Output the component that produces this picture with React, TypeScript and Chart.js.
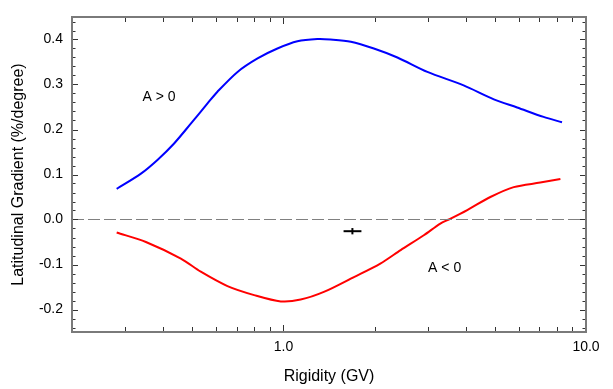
import React, { useEffect, useRef } from 'react';
import { Chart, registerables } from 'chart.js';

Chart.register(...registerables);

// Blue curve (A > 0)
const rigidityPos = [0.281, 0.338, 0.384, 0.435, 0.494, 0.561, 0.605, 0.705, 0.821, 0.955, 1.112, 1.294, 1.43, 1.67, 1.99, 2.38, 2.99, 3.94, 4.96, 5.92, 7.24, 8.33];
const gradientPos = [0.068, 0.102, 0.133, 0.169, 0.213, 0.258, 0.284, 0.328, 0.358, 0.380, 0.396, 0.401, 0.400, 0.395, 0.380, 0.360, 0.328, 0.298, 0.267, 0.249, 0.228, 0.216];

// Red curve (A < 0)
const rigidityNeg = [0.281, 0.351, 0.458, 0.533, 0.653, 0.80, 0.98, 1.14, 1.36, 1.71, 2.09, 2.44, 2.91, 3.30, 3.52, 4.05, 4.83, 5.77, 7.06, 8.23];
const gradientNeg = [-0.029, -0.050, -0.087, -0.116, -0.148, -0.168, -0.182, -0.178, -0.161, -0.128, -0.098, -0.068, -0.035, -0.009, 0.000, 0.021, 0.050, 0.072, 0.082, 0.090];

// Single measurement with error bars
const pointX = [1.69];
const pointY = [-0.026];
const pointXErr = [[1.58, 1.81]];
const pointYErr = [[-0.033, -0.019]];

// Axes
const xMin = 0.2;
const xMax = 10;
const yMin = -0.25;
const yMax = 0.45;
const xTickValues = [1, 10];
const xMinorTicks = [0.3, 0.4, 0.5, 0.6, 0.7, 0.8, 0.9, 2, 3, 4, 5, 6, 7, 8, 9];
const yTickValues = [-0.2, -0.1, 0.0, 0.1, 0.2, 0.3, 0.4];
const yMinorStep = 0.02;

// Text annotations
const labelTexts = ['A > 0', 'A < 0'];
const labelX = [0.388, 3.41];
const labelY = [0.271, -0.1075];

const FONT = '"Liberation Sans", Arial, Helvetica, sans-serif';

const framePlugin = {
  id: 'frameTicks',
  afterDatasetsDraw(chart: any) {
    const { ctx, chartArea, scales } = chart;
    const { left, right, top, bottom } = chartArea;
    const x = scales.x;
    const y = scales.y;
    ctx.save();
    ctx.strokeStyle = '#333333';
    ctx.lineWidth = 1;
    ctx.beginPath();
    for (const v of yTickValues) {
      const py = Math.round(y.getPixelForValue(v)) + 0.5;
      ctx.moveTo(left, py); ctx.lineTo(left + 6, py);
      ctx.moveTo(right, py); ctx.lineTo(right - 6, py);
    }
    const nMin = Math.ceil(yMin / yMinorStep - 1e-9);
    const nMax = Math.floor(yMax / yMinorStep + 1e-9);
    for (let i = nMin; i <= nMax; i++) {
      if (i % 5 === 0) continue;
      const v = i * yMinorStep;
      const py = Math.round(y.getPixelForValue(v)) + 0.5;
      ctx.moveTo(left, py); ctx.lineTo(left + 3.5, py);
      ctx.moveTo(right, py); ctx.lineTo(right - 3.5, py);
    }
    for (const v of xTickValues) {
      const px = Math.round(x.getPixelForValue(v)) + 0.5;
      ctx.moveTo(px, bottom); ctx.lineTo(px, bottom - 7);
      ctx.moveTo(px, top); ctx.lineTo(px, top + 7);
    }
    for (const v of xMinorTicks) {
      const px = Math.round(x.getPixelForValue(v)) + 0.5;
      ctx.moveTo(px, bottom); ctx.lineTo(px, bottom - 5);
      ctx.moveTo(px, top); ctx.lineTo(px, top + 5);
    }
    ctx.stroke();

    ctx.strokeStyle = '#7a7a7a';
    ctx.lineWidth = 2;
    ctx.strokeRect(left, top, right - left, bottom - top);

    ctx.fillStyle = '#000000';
    ctx.font = `14px ${FONT}`;
    ctx.textAlign = 'center';
    ctx.textBaseline = 'middle';
    labelTexts.forEach((t, i) => {
      ctx.fillText(t, x.getPixelForValue(labelX[i]), y.getPixelForValue(labelY[i]));
    });
    ctx.restore();
  },
};

export default function App() {
  const canvasRef = useRef<HTMLCanvasElement | null>(null);

  useEffect(() => {
    const canvas = canvasRef.current;
    if (!canvas) return;
    const toPts = (xs: number[], ys: number[]) => xs.map((v, i) => ({ x: v, y: ys[i] }));

    const chart = new Chart(canvas, {
      type: 'line',
      data: {
        datasets: [
          {
            label: 'zero',
            data: [{ x: xMin, y: 0 }, { x: xMax, y: 0 }],
            borderColor: '#808080',
            borderWidth: 1,
            borderDash: [12, 4],
            pointRadius: 0,
          },
          {
            label: 'A > 0',
            data: toPts(rigidityPos, gradientPos),
            borderColor: '#0000ff',
            borderWidth: 2,
            pointRadius: 0,
            tension: 0.3,
          },
          {
            label: 'A < 0',
            data: toPts(rigidityNeg, gradientNeg),
            borderColor: '#ff0000',
            borderWidth: 2,
            pointRadius: 0,
            tension: 0.3,
          },
          {
            label: 'errX',
            data: [{ x: pointXErr[0][0], y: pointY[0] }, { x: pointXErr[0][1], y: pointY[0] }],
            borderColor: '#000000',
            borderWidth: 2,
            pointRadius: 0,
          },
          {
            label: 'errY',
            data: [{ x: pointX[0], y: pointYErr[0][0] }, { x: pointX[0], y: pointYErr[0][1] }],
            borderColor: '#000000',
            borderWidth: 2,
            pointRadius: 0,
          },
        ],
      },
      options: {
        animation: false,
        responsive: false,
        events: [],
        layout: { padding: { top: 17, right: 27, left: 0, bottom: 0 } },
        plugins: {
          legend: { display: false },
          tooltip: { enabled: false },
        },
        scales: {
          x: {
            type: 'logarithmic',
            min: xMin,
            max: xMax,
            afterBuildTicks: (s: any) => {
              s.ticks = xTickValues.map((v) => ({ value: v }));
            },
            afterFit: (s: any) => {
              s.height = 57;
              s.paddingLeft = 0;
              s.paddingRight = 0;
            },
            grid: { display: false, drawTicks: false },
            border: { display: false },
            ticks: {
              callback: (v: any) => Number(v).toFixed(1),
              font: { family: FONT, size: 14 },
              color: '#000000',
              padding: 7,
              maxRotation: 0,
              autoSkip: false,
            },
            title: {
              display: true,
              text: 'Rigidity (GV)',
              font: { family: FONT, size: 16 },
              color: '#000000',
              padding: { top: 0, bottom: 3 },
            },
          },
          y: {
            type: 'linear',
            min: yMin,
            max: yMax,
            afterBuildTicks: (s: any) => {
              s.ticks = yTickValues.map((v) => ({ value: v }));
            },
            afterFit: (s: any) => {
              s.width = 72;
              s.paddingTop = 0;
              s.paddingBottom = 0;
            },
            grid: { display: false, drawTicks: false },
            border: { display: false },
            ticks: {
              callback: (v: any) => Number(v).toFixed(1),
              font: { family: FONT, size: 14 },
              color: '#000000',
              padding: 9,
              autoSkip: false,
            },
            title: {
              display: true,
              text: 'Latitudinal Gradient (%/degree)',
              font: { family: FONT, size: 16 },
              color: '#000000',
              padding: { top: 9, bottom: 0 },
            },
          },
        },
      },
      plugins: [framePlugin],
    } as any);

    return () => chart.destroy();
  }, []);

  return (
    <div style={{ position: 'fixed', left: 0, top: 0, width: 613, height: 389, background: '#ffffff' }}>
      <canvas ref={canvasRef} width={613} height={389} style={{ display: 'block' }} />
    </div>
  );
}
